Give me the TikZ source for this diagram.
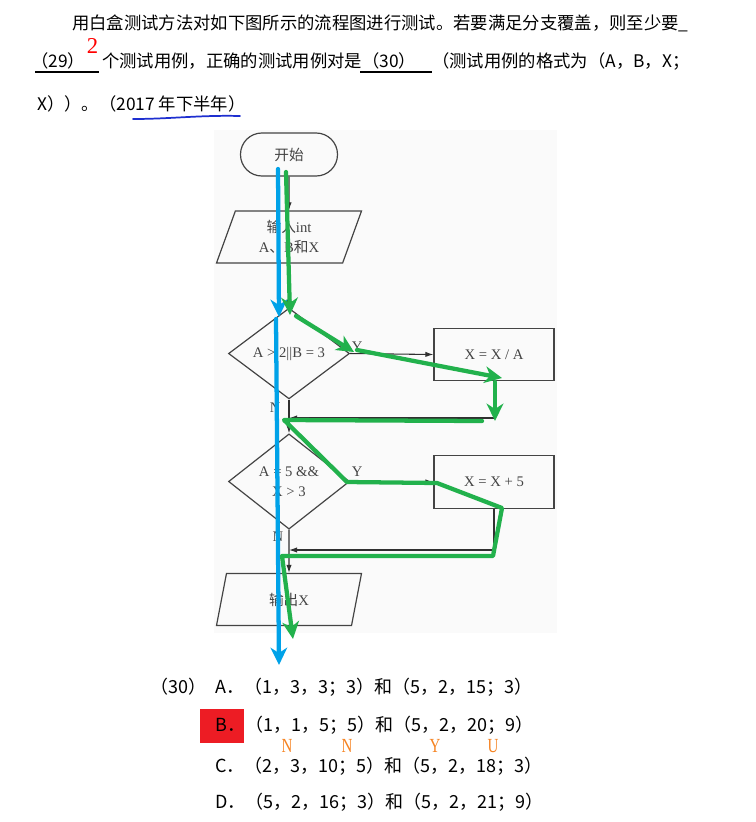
\documentclass[tikz,border=0pt]{standalone}
\usepackage{fontspec}
\setmainfont{Liberation Serif}
\newfontfamily\cjk{Noto Sans CJK SC}
\newfontfamily\narrowserif[FakeStretch=0.75]{Liberation Serif}
\usetikzlibrary{arrows.meta, shapes.geometric}

\definecolor{markblue}{HTML}{00A2E8}
\definecolor{markgreen}{HTML}{22B14C}
\definecolor{markred}{HTML}{ED1C24}
\definecolor{markorange}{HTML}{F58220}
\definecolor{penblue}{HTML}{1E2FD0}
\definecolor{chartgray}{HTML}{444444}
\definecolor{chartbg}{HTML}{FAFAFA}

\begin{document}
\begin{tikzpicture}[
    x=0.75pt, y=-0.75pt,
    qtext/.style={font=\cjk\fontsize{13pt}{15pt}\selectfont, anchor=base west, inner sep=0pt},
    otext/.style={font=\cjk\fontsize{13.5pt}{16pt}\selectfont, anchor=base west, inner sep=0pt},
    chart/.style={draw=chartgray, line width=0.9pt, text=chartgray,
                  font=\fontsize{11pt}{15pt}\selectfont, align=center},
    term/.style={chart, rounded corners=16pt, minimum width=72.75pt, minimum height=32.25pt},
    io/.style={chart, trapezium, trapezium left angle=66, trapezium right angle=114,
               trapezium stretches body, minimum width=108.75pt, minimum height=39pt},
    cond/.style={chart, diamond, inner sep=1pt, minimum width=90.75pt, minimum height=57.75pt},
    proc/.style={chart, minimum width=90pt, minimum height=39.5pt},
    flow/.style={draw=chartgray!70!black, line width=0.8pt, -{Latex[length=6pt, width=4pt]}},
    lbl/.style={text=chartgray, font=\fontsize{11pt}{13pt}\selectfont, inner sep=1pt},
    stroke/.style={line width=3.2pt, line join=round, line cap=round,
                 -{Stealth[length=13pt, width=12.5pt, inset=4pt]}},
    letter/.style={text=markorange, font=\narrowserif\fontsize{15pt}{15pt}\selectfont, inner sep=0pt},
  ]
    \useasboundingbox (0,0) rectangle (756,822);
    % question text
    \node[qtext] (q1) at (72,29.5) {用白盒测试方法对如下图所示的流程图进行测试。若要满足分支覆盖，则至少要\_};
    \node[qtext] (q29) at (31,67.5) {（29）};
    \node[qtext] (q2a) at (102,67.5) {个测试用例，正确的测试用例对是};
    \node[qtext] (q30) at (362,67.5) {（30）};
    \node[qtext] (q2b) at (432,67.5) {（测试用例的格式为（A，B，X；};
    \node[qtext] (q3) at (37,110) {X））。（2017 年下半年）};
    \draw[line width=0.8pt] (35,72) -- (99,72);
    \draw[line width=0.8pt] (360,72) -- (432,72);
    \node[text=red, font=\fontsize{17pt}{17pt}\selectfont, inner sep=0pt] (ans) at (92.5,46) {2};
    \draw[penblue, line width=1.3pt, line cap=round] (133,119) .. controls (170,119) and (200,115) .. (240,116);

    % flowchart
    \fill[chartbg] (214,130) rectangle (557,633);
    \node[term] (start) at (289,154.5) {{\cjk 开始}};
    \node[io] (input) at (289,237) {{\cjk 输入}int\\A{\cjk 、}B{\cjk 和}X};
    \node[cond] (c1) at (289,353.5) {A > 2||B = 3};
    \node[proc] (p1) at (494,354.5) {X = X / A};
    \node[cond] (c2) at (289,481.5) {A = 5 \&\&\\X > 3};
    \node[proc] (p2) at (494,482) {X = X + 5};
    \node[io] (output) at (289,599.5) {{\cjk 输出}X};
    \coordinate (j1) at (289,418);
    \coordinate (j2) at (289,550);
    \draw[flow] (start) -- (input);
    \draw[flow] (input) -- (c1);
    \draw[flow] (c1.east) -- node[lbl, above right, pos=0]{Y} (p1.west);
    \draw[flow] (c1.south) -- node[lbl, left, pos=0.25, xshift=-5pt]{N} (c2.north);
    \draw[flow] (p1.south) |- (j1);
    \draw[flow] (c2.east) -- node[lbl, above right, pos=0, yshift=2pt]{Y} (p2.west);
    \draw[flow] (c2.south) -- node[lbl, left, pos=0.15, xshift=-3pt]{N} (output.north);
    \draw[flow] (p2.south) |- (j2);

    % hand-drawn paths
    \draw[stroke, markblue] (278,169) -- (279,317);
    \draw[stroke, markblue] (276,319) -- (279,665);
    \draw[stroke, markgreen] (286,172) -- (290,315);
    \draw[stroke, markgreen] (296,316) -- (354,352);
    \draw[stroke, markgreen] (357,350) -- (502,378);
    \draw[stroke, markgreen] (495,382) -- (495,421);
    \draw[stroke, markgreen] (482,421) -- (284,420) -- (347,482) -- (437,483)
        -- (502,508) -- (493,556) -- (282,556) -- (293,639);

    % answer options
    \node[otext] (o30) at (150,693) {（30）};
    \node[otext] (oa) at (215,693) {A．（1，3，3；3）和（5，2，15；3）};
    \fill[markred] (200,709) rectangle (244,743);
    \node[otext] (ob) at (215,731) {B．（1，1，5；5）和（5，2，20；9）};
    \node[otext] (oc) at (215,772) {C．（2，3，10；5）和（5，2，18；3）};
    \node[otext] (od) at (215,808) {D．（5，2，16；3）和（5，2，21；9）};
    \node[letter] (n1) at (287,746) {N};
    \node[letter] (n2) at (347,746) {N};
    \node[letter] (y1) at (435,746) {Y};
    \node[letter] (u1) at (493,746) {U};
\end{tikzpicture}
\end{document}
